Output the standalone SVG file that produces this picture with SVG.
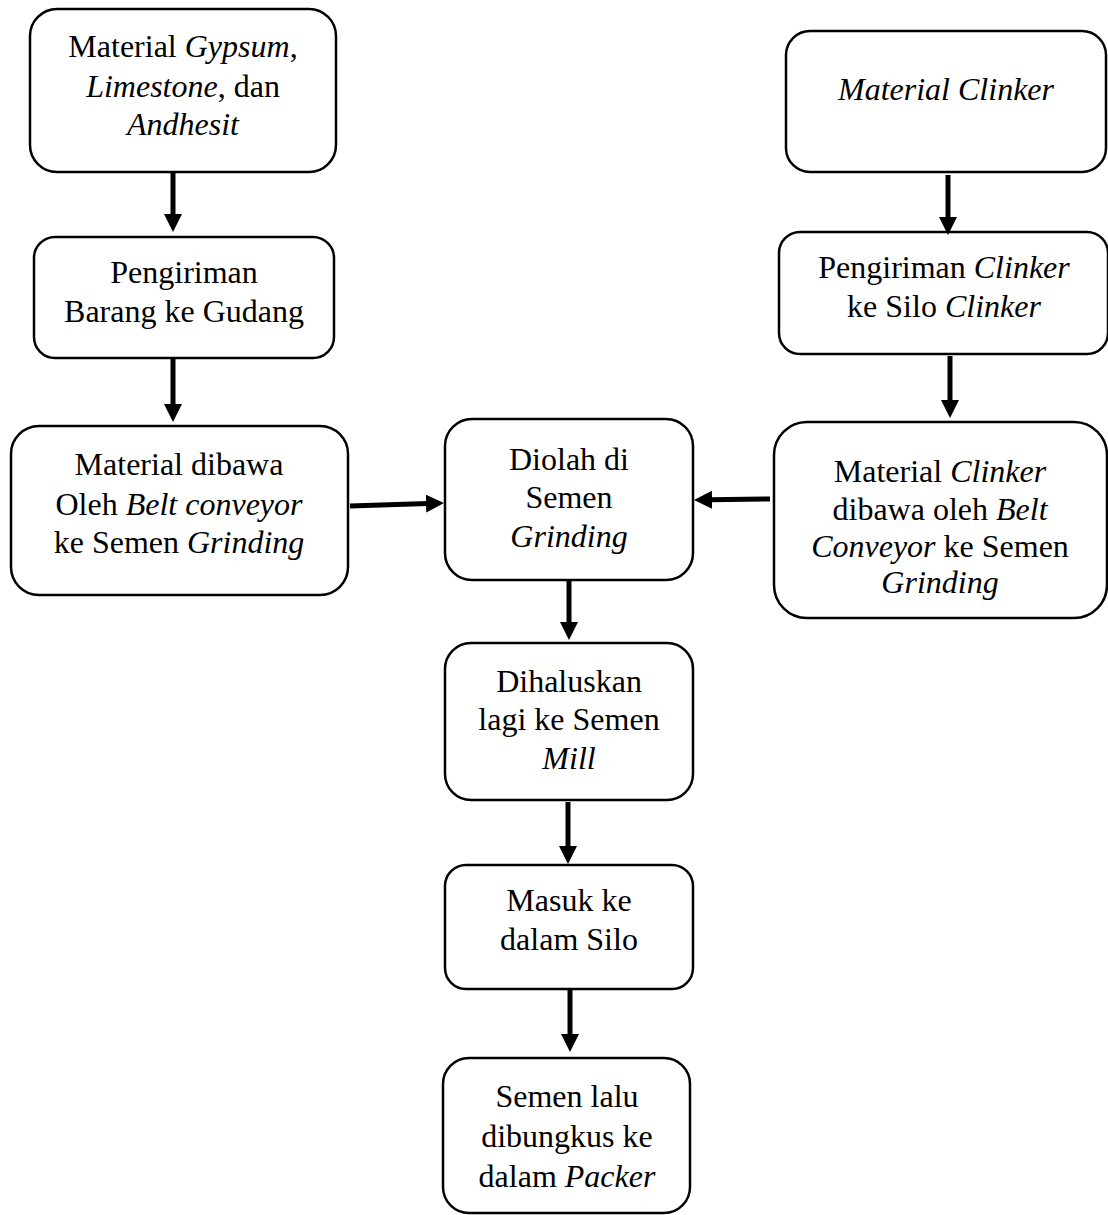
<svg xmlns="http://www.w3.org/2000/svg" width="1108" height="1215" viewBox="0 0 1108 1215">
  <style>
    .box { fill: #ffffff; stroke: #000000; stroke-width: 2.5; }
    .t { font-family: "Liberation Serif", "Times New Roman", serif; font-size: 32px; fill: #000000; text-anchor: middle; }
    .i { font-style: italic; }
    .flow { stroke: #000000; stroke-width: 5; fill: none; marker-end: url(#head); }
  </style>
  <defs>
    <marker id="head" markerUnits="userSpaceOnUse" markerWidth="18" markerHeight="18" refX="2" refY="9" orient="auto">
      <path d="M0,0 L18,9 L0,18 z" fill="#000000"/>
    </marker>
  </defs>

  <!-- left column -->
  <g id="material-gypsum">
    <rect class="box" x="30" y="9" width="306" height="163" rx="27"/>
    <text class="t" x="183" y="57">Material <tspan class="i">Gypsum</tspan>,</text>
    <text class="t" x="183" y="97"><tspan class="i">Limestone</tspan>, dan</text>
    <text class="t" x="183" y="135" font-style="italic">Andhesit</text>
  </g>

  <g id="pengiriman-gudang">
    <rect class="box" x="34" y="237" width="300" height="121" rx="21"/>
    <text class="t" x="184" y="283">Pengiriman</text>
    <text class="t" x="184" y="322">Barang ke Gudang</text>
  </g>

  <g id="belt-conveyor-left">
    <rect class="box" x="11" y="426" width="337" height="169" rx="28"/>
    <text class="t" x="179" y="475">Material dibawa</text>
    <text class="t" x="179" y="515">Oleh <tspan class="i">Belt conveyor</tspan></text>
    <text class="t" x="179" y="553">ke Semen <tspan class="i">Grinding</tspan></text>
  </g>

  <!-- right column -->
  <g id="material-clinker">
    <rect class="box" x="786" y="31" width="320" height="141" rx="24"/>
    <text class="t" x="946" y="100" font-style="italic">Material Clinker</text>
  </g>

  <g id="pengiriman-clinker">
    <rect class="box" x="779" y="232" width="329" height="122" rx="21"/>
    <text class="t" x="944" y="278">Pengiriman <tspan class="i">Clinker</tspan></text>
    <text class="t" x="944" y="317">ke Silo <tspan class="i">Clinker</tspan></text>
  </g>

  <g id="belt-conveyor-right">
    <rect class="box" x="774" y="422" width="333" height="196" rx="33"/>
    <text class="t" x="940" y="482">Material <tspan class="i">Clinker</tspan></text>
    <text class="t" x="940" y="520">dibawa oleh <tspan class="i">Belt</tspan></text>
    <text class="t" x="940" y="557"><tspan class="i">Conveyor</tspan> ke Semen</text>
    <text class="t" x="940" y="593" font-style="italic">Grinding</text>
  </g>

  <!-- centre column -->
  <g id="diolah">
    <rect class="box" x="445" y="419" width="248" height="161" rx="27"/>
    <text class="t" x="569" y="470">Diolah di</text>
    <text class="t" x="569" y="508">Semen</text>
    <text class="t" x="569" y="547" font-style="italic">Grinding</text>
  </g>

  <g id="dihaluskan">
    <rect class="box" x="445" y="643" width="248" height="157" rx="26"/>
    <text class="t" x="569" y="692">Dihaluskan</text>
    <text class="t" x="569" y="730">lagi ke Semen</text>
    <text class="t" x="569" y="769" font-style="italic">Mill</text>
  </g>

  <g id="masuk-silo">
    <rect class="box" x="445" y="865" width="248" height="124" rx="21"/>
    <text class="t" x="569" y="911">Masuk ke</text>
    <text class="t" x="569" y="950">dalam Silo</text>
  </g>

  <g id="packer">
    <rect class="box" x="443" y="1058" width="247" height="155" rx="26"/>
    <text class="t" x="567" y="1107">Semen lalu</text>
    <text class="t" x="567" y="1147">dibungkus ke</text>
    <text class="t" x="567" y="1187">dalam <tspan class="i">Packer</tspan></text>
  </g>

  <!-- connectors -->
  <g id="connectors">
    <line class="flow" x1="173" y1="172" x2="173" y2="216"/>
    <line class="flow" x1="173" y1="358" x2="173" y2="406"/>
    <line class="flow" x1="948" y1="175" x2="948" y2="219"/>
    <line class="flow" x1="950" y1="356" x2="950" y2="402"/>
    <line class="flow" x1="350" y1="506" x2="428" y2="503.5"/>
    <line class="flow" x1="770" y1="499" x2="710" y2="499.8"/>
    <line class="flow" x1="569" y1="580" x2="569" y2="624"/>
    <line class="flow" x1="568" y1="802" x2="568" y2="848"/>
    <line class="flow" x1="570" y1="989" x2="570" y2="1036"/>
  </g>
</svg>
